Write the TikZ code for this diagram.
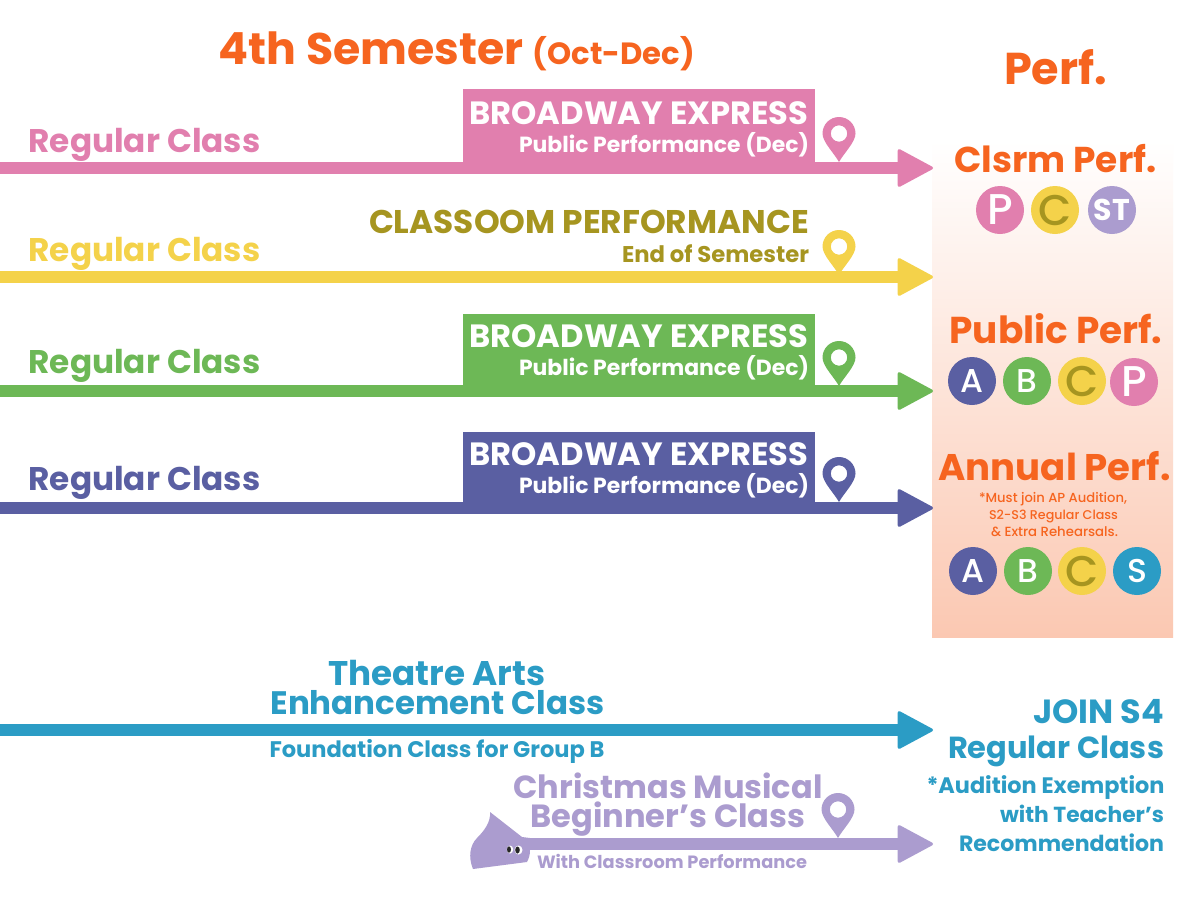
\documentclass[tikz,border=0pt]{standalone}
\usepackage{fontspec}
\usepackage{graphicx}
\setmainfont{Poppins}
\newfontfamily\medfont{Poppins Medium}
\usetikzlibrary{arrows.meta}
\definecolor{cpink}{HTML}{E17FAE}
\definecolor{cyellow}{HTML}{F4D24A}
\definecolor{cgreen}{HTML}{6DB856}
\definecolor{cnavy}{HTML}{5A5FA2}
\definecolor{cteal}{HTML}{2B9CC5}
\definecolor{clav}{HTML}{AB9CCF}
\definecolor{corange}{HTML}{F6641F}
\definecolor{colive}{HTML}{A69520}
\definecolor{cpanel}{HTML}{FBC8B2}
\newcommand\fitw[2]{\resizebox{#1pt}{!}{\fontsize{30}{36}\selectfont\bfseries #2}}
\newcommand\fitm[2]{\resizebox{#1pt}{!}{\fontsize{30}{36}\medfont #2}}
\tikzset{
  lab/.style={inner sep=0pt,anchor=base,text=#1},
  flow/.style={draw=#1,line width=12pt,-{Triangle[length=37pt,width=39pt,line width=3pt,round]}},
  badge/.style={circle,fill=#1,minimum size=48pt,inner sep=0pt,text=white,font=\fontsize{33}{36}\medfont},
  bigletter/.style={font=\fontsize{43}{46}\medfont},
  oliveletter/.style={text=colive,font=\fontsize{43}{46}\medfont},
  pin/.pic={\fill[even odd rule,pic actions] (0,0) .. controls (-5,-9) and (-16.5,-20) .. (-16.5,-28.5) arc (180:360:16.5) .. controls (16.5,-20) and (5,-9) .. (0,0) -- cycle (0,-28.5) circle (8.2);}
}
\begin{document}
\begin{tikzpicture}[x=1pt,y=-1pt]
\useasboundingbox (0,0) rectangle (1200,900);
\fill[white] (0,0) rectangle (1200,900);
\shade[top color=white,bottom color=cpanel] (932,140) rectangle (1173,637);
% title
\node[lab=corange] (title) at (457,64) {\fitw{476}{\fontsize{36}{40}\selectfont 4th Semester \fontsize{25}{30}\selectfont (Oct-Dec)}};
\node[lab=corange] (perf) at (1055.5,84) {\fitw{103}{Perf.}};
% boxes
\fill[cpink] (463,89) rectangle (815,165);
\fill[cgreen] (463,314) rectangle (815,388);
\fill[cnavy] (463,432) rectangle (815,505);
% flows
\foreach \n/\c/\y in {a/cpink/168,b/cyellow/277,c/cgreen/391,d/cnavy/508,e/cteal/730}{
  \coordinate (\n0) at (0,\y);
  \coordinate (\n1) at (933,\y);
  \draw[flow=\c] (\n0) -- (\n1);
}
% blob
\coordinate (f0) at (510,844);
\coordinate (f1) at (933,844);
\fill[clav] (490,812) .. controls (491,822) and (484,831) .. (477,838) .. controls (470,845) and (468,857) .. (473,869) -- (527,862) .. controls (529,858) and (530,855) .. (530,850) -- (530,838) -- (522,837) -- cycle;
\draw[flow=clav] (f0) -- (f1);
\fill[white] (510,849.5) ellipse (3.2 and 4);
\fill[white] (518.5,850) ellipse (4 and 4.5);
\fill[black!85] (509,849.5) ellipse (2 and 3.2);
\fill[black!85] (517.5,850) ellipse (2.3 and 3.5);
% pins
\pic[fill=cpink] at (839,162) {pin};
\pic[fill=cyellow] at (839,275) {pin};
\pic[fill=cgreen] at (839,386) {pin};
\pic[fill=cnavy] at (839,502) {pin};
\pic[fill=clav] at (838,838) {pin};
% regular class
\node[lab=cpink] (r1) at (144.5,152) {\fitw{232}{Regular Class}};
\node[lab=cyellow] (r2) at (144.5,261) {\fitw{232}{Regular Class}};
\node[lab=cgreen] (r3) at (144.5,373) {\fitw{232}{Regular Class}};
\node[lab=cnavy] (r4) at (144.5,490) {\fitw{232}{Regular Class}};
% box texts
\node[lab=white] (b1) at (639,124) {\fitw{339}{BROADWAY EXPRESS}};
\node[lab=white] (p1) at (664,152) {\fitw{290}{Public Performance (Dec)}};
\node[lab=white] (b3) at (639,347) {\fitw{339}{BROADWAY EXPRESS}};
\node[lab=white] (p3) at (664,375) {\fitw{290}{Public Performance (Dec)}};
\node[lab=white] (b4) at (639,465) {\fitw{339}{BROADWAY EXPRESS}};
\node[lab=white] (p4) at (664,493) {\fitw{290}{Public Performance (Dec)}};
\node[lab=colive] (b2) at (589,233) {\fitw{440}{CLASSOOM PERFORMANCE}};
\node[lab=colive] (p2) at (715.5,262) {\fitw{187}{End of Semester}};
% panel headings
\node[lab=corange] (h1) at (1055.5,172) {\fitw{202}{Clsrm Perf.}};
\node[lab=corange] (h2) at (1056,343) {\fitw{213}{Public Perf.}};
\node[lab=corange] (h3) at (1054.5,480) {\fitw{232}{Annual Perf.}};
\node[lab=corange] (n1) at (1053,502) {\fitm{148}{*Must join AP Audition,}};
\node[lab=corange] (n2) at (1053.5,519) {\fitm{129}{S2-S3 Regular Class}};
\node[lab=corange] (n3) at (1054.5,536) {\fitm{127}{\& Extra Rehearsals.}};
% badges
\node[badge=cpink,bigletter] (c1) at (1000,210) {P};
\node[badge=cyellow,oliveletter] (c2) at (1055,210) {C};
\node[badge=clav,font=\fontsize{30}{32}\selectfont\bfseries] (c3) at (1112,210) {ST};
\node[badge=cnavy] (d1) at (972,381) {A};
\node[badge=cgreen] (d2) at (1027,381) {B};
\node[badge=cyellow,oliveletter] (d3) at (1082,381) {C};
\node[badge=cpink,bigletter] (d4) at (1134,382) {P};
\node[badge=cnavy] (e1) at (973,571) {A};
\node[badge=cgreen] (e2) at (1028,571) {B};
\node[badge=cyellow,oliveletter] (e3) at (1082,571) {C};
\node[badge=cteal] (e4) at (1137,571) {S};
% teal texts
\node[lab=cteal] (t1) at (437,685) {\fitw{217}{Theatre Arts}};
\node[lab=cteal] (t2) at (437.5,714) {\fitw{334}{Enhancement Class}};
\node[lab=cteal] (t3) at (437,757) {\fitw{335}{Foundation Class for Group B}};
% lavender texts
\node[lab=clav] (l1) at (668,798) {\fitw{309}{Christmas Musical}};
\node[lab=clav] (l2) at (668,827) {\fitw{275}{Beginner’s Class}};
\node[lab=clav] (l3) at (672,868) {\fitw{270}{With Classroom Performance}};
% right texts
\node[lab=cteal] (j1) at (1098.5,723.5) {\fitw{131}{JOIN S4}};
\node[lab=cteal] (j2) at (1056,758) {\fitw{216}{Regular Class}};
\node[lab=cteal] (j3) at (1045.5,793) {\fitw{238}{*Audition Exemption}};
\node[lab=cteal] (j4) at (1082,822) {\fitw{164}{with Teacher’s}};
\node[lab=cteal] (j5) at (1061.5,851) {\fitw{205}{Recommendation}};
\end{tikzpicture}
\end{document}
